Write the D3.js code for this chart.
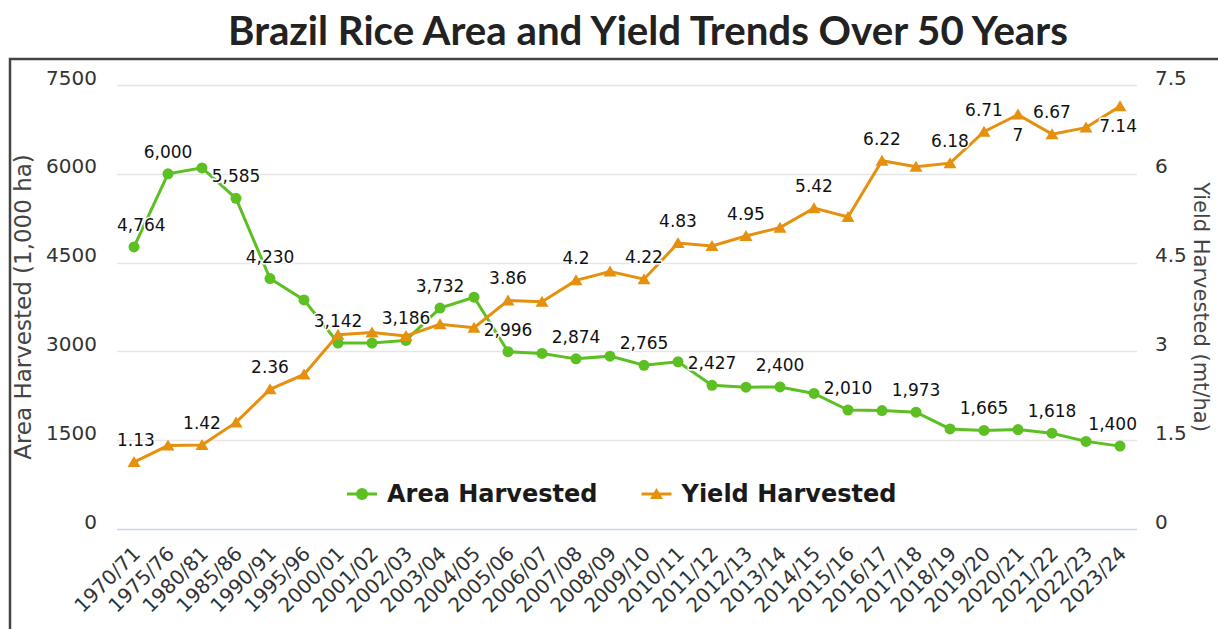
<!DOCTYPE html>
<html>
<head>
  <meta charset="utf-8" />
  <title>Brazil Rice Area and Yield</title>
  <script src="https://d3js.org/d3.v7.min.js"></script>
  <style>
    html, body { margin: 0; padding: 0; background: #fff; }
    svg { display: block; }
  </style>
</head>
<body>
<svg id="chart" width="1218" height="629"></svg>
<script>
// marketing years on the x axis
const years = ["1970/71", "1975/76", "1980/81", "1985/86", "1990/91", "1995/96", "2000/01", "2001/02",
  "2002/03", "2003/04", "2004/05", "2005/06", "2006/07", "2007/08", "2008/09", "2009/10", "2010/11",
  "2011/12", "2012/13", "2013/14", "2014/15", "2015/16", "2016/17", "2017/18", "2018/19", "2019/20",
  "2020/21", "2021/22", "2022/23", "2023/24"]

// area harvested, 1,000 ha
const area = [4764, 6000, 6100, 5585, 4230, 3870, 3142, 3140, 3186, 3732, 3915, 2996, 2965, 2874, 2920,
  2765, 2825, 2427, 2395, 2400, 2290, 2010, 2000, 1973, 1690, 1665, 1680, 1618, 1480, 1400]

// yield, mt/ha
const yieldHa = [1.13, 1.41, 1.42, 1.80, 2.36, 2.61, 3.28, 3.32, 3.26, 3.46, 3.40, 3.86, 3.84, 4.2, 4.35,
  4.22, 4.83, 4.78, 4.95, 5.09, 5.42, 5.27, 6.22, 6.12, 6.18, 6.71, 7.0, 6.67, 6.78, 7.14]

// which points carry a visible data label
const areaLabelled = [0, 1, 3, 4, 6, 8, 9, 11, 13, 15, 17, 19, 21, 23, 25, 27, 29]
const yieldLabelled = [0, 2, 4, 11, 13, 15, 16, 18, 20, 22, 24, 25, 26, 27, 29]

const areaTicks = [0, 1500, 3000, 4500, 6000, 7500]
const yieldTicks = [0, 1.5, 3, 4.5, 6, 7.5]

const green = "#5cbf22"
const orange = "#e5900e"
const font = "'DejaVu Sans', Verdana, sans-serif"

const svg = d3.select("#chart")
const plotLeft = 117, plotRight = 1137, plotTop = 85, plotBottom = 529

const x = d3.scalePoint().domain(years).range([plotLeft, plotRight]).padding(0.5)
const yA = d3.scaleLinear().domain([0, 7500]).range([plotBottom, plotTop])
const yY = d3.scaleLinear().domain([0, 7.5]).range([plotBottom, plotTop])

// frame around the chart image
svg.append("path")
  .attr("d", "M10,629V59H1218")
  .attr("fill", "none")
  .attr("stroke", "#444")
  .attr("stroke-width", 2.5)

// title
const title = svg.append("text")
  .attr("x", 648)
  .attr("y", 45)
  .attr("text-anchor", "middle")
  .style("font-family", "Lato, 'Open Sans', sans-serif")
  .style("font-weight", "bold")
  .style("font-size", "36px")
  .style("fill", "#222")
  .text("Brazil Rice Area and Yield Trends Over 50 Years")
const tw = title.node().getComputedTextLength()
title.style("font-size", (36 * 840 / tw) + "px")

// grid lines
svg.append("g")
  .selectAll("line")
  .data(areaTicks.slice(1))
  .enter()
  .append("line")
  .attr("x1", plotLeft)
  .attr("x2", plotRight)
  .attr("y1", d => Math.round(yA(d)) + 0.5)
  .attr("y2", d => Math.round(yA(d)) + 0.5)
  .attr("stroke", "#e6e6e6")
  .attr("stroke-width", 1.5)

// bottom axis line
svg.append("line")
  .attr("x1", plotLeft).attr("x2", plotRight)
  .attr("y1", plotBottom + 0.5).attr("y2", plotBottom + 0.5)
  .attr("stroke", "#ccd6eb")
  .attr("stroke-width", 1.5)

// left axis labels
const leftAxis = svg.append("g")
  .attr("transform", `translate(97,0)`)
  .call(d3.axisLeft(yA).tickValues(areaTicks).tickSize(0).tickPadding(0).tickFormat(d3.format("d")))
leftAxis.select(".domain").remove()
leftAxis.selectAll("text")
  .attr("dy", "-0.05em")
  .style("font-family", font)
  .style("font-size", "20px")
  .style("fill", "#333")

// right axis labels
const rightAxis = svg.append("g")
  .attr("transform", `translate(1155,0)`)
  .call(d3.axisRight(yY).tickValues(yieldTicks).tickSize(0).tickPadding(0).tickFormat(d3.format("")))
rightAxis.select(".domain").remove()
rightAxis.selectAll("text")
  .attr("dy", "-0.05em")
  .style("font-family", font)
  .style("font-size", "20px")
  .style("fill", "#333")

// x axis labels, rotated
const xAxis = svg.append("g")
  .attr("transform", `translate(0,${plotBottom})`)
  .call(d3.axisBottom(x).tickSize(0).tickPadding(0))
xAxis.select(".domain").remove()
xAxis.selectAll("text")
  .attr("text-anchor", "end")
  .attr("dy", null)
  .attr("transform", "translate(7,26) rotate(-45)")
  .style("font-family", font)
  .style("font-size", "20px")
  .style("fill", "#333")

// axis titles
svg.append("text")
  .attr("transform", `translate(31,${(plotTop + plotBottom) / 2}) rotate(-90)`)
  .attr("text-anchor", "middle")
  .style("font-family", font)
  .style("font-size", "23px")
  .style("fill", "#444")
  .text("Area Harvested (1,000 ha)")

svg.append("text")
  .attr("transform", `translate(1201,${(plotTop + plotBottom) / 2}) rotate(90)`)
  .attr("text-anchor", "middle")
  .attr("dominant-baseline", "central")
  .style("font-family", font)
  .style("font-size", "21px")
  .style("fill", "#444")
  .text("Yield Harvested (mt/ha)")

// series lines
const areaLine = d3.line().x((d, i) => x(years[i])).y(d => yA(d))
const yieldLine = d3.line().x((d, i) => x(years[i])).y(d => yY(d))

svg.append("path")
  .datum(area)
  .attr("d", areaLine)
  .attr("fill", "none")
  .attr("stroke", green)
  .attr("stroke-width", 3)

svg.selectAll("circle.area")
  .data(area)
  .enter()
  .append("circle")
  .attr("class", "area")
  .attr("cx", (d, i) => x(years[i]))
  .attr("cy", d => yA(d))
  .attr("r", 5.5)
  .style("fill", green)

svg.append("path")
  .datum(yieldHa)
  .attr("d", yieldLine)
  .attr("fill", "none")
  .attr("stroke", orange)
  .attr("stroke-width", 3)

const tri = "M0,-6L6.5,5L-6.5,5Z"
svg.selectAll("path.yield")
  .data(yieldHa)
  .enter()
  .append("path")
  .attr("class", "yield")
  .attr("d", tri)
  .attr("transform", (d, i) => `translate(${x(years[i])},${yY(d)})`)
  .style("fill", orange)

// data labels, kept inside the plot like the source chart
function addLabels(values, idx, y, fmt) {
  const g = svg.append("g")
  idx.forEach(i => {
    const px = x(years[i]), py = y(values[i])
    const t = g.append("text")
      .attr("text-anchor", "middle")
      .attr("dominant-baseline", "central")
      .style("font-family", font)
      .style("font-size", "17px")
      .style("fill", "#111")
      .style("stroke", "#fff")
      .style("stroke-width", 3)
      .style("stroke-linejoin", "round")
      .style("paint-order", "stroke")
      .text(fmt(values[i]))
    const w = t.node().getComputedTextLength()
    let cx = Math.max(plotLeft + w / 2, Math.min(plotRight - w / 2, px))
    let cy = py - 22
    if (cy - 10 < plotTop) cy = py + 20
    t.attr("x", cx).attr("y", cy)
  })
}
addLabels(area, areaLabelled, yA, d3.format(","))
addLabels(yieldHa, yieldLabelled, yY, d => String(d))

// legend
const legendItems = [
  { name: "Area Harvested", color: green, shape: "circle" },
  { name: "Yield Harvested", color: orange, shape: "triangle" }
]
const legend = svg.append("g")
let lx = 347
legendItems.forEach(item => {
  const g = legend.append("g").attr("transform", `translate(${lx},494)`)
  g.append("line").attr("x1", 0).attr("x2", 30).attr("stroke", item.color).attr("stroke-width", 3)
  if (item.shape === "circle") {
    g.append("circle").attr("cx", 15).attr("r", 6).style("fill", item.color)
  } else {
    g.append("path").attr("d", tri).attr("transform", "translate(15,0)").style("fill", item.color)
  }
  const t = g.append("text")
    .attr("x", 40)
    .attr("dominant-baseline", "central")
    .style("font-family", font)
    .style("font-weight", "bold")
    .style("font-size", "24px")
    .style("fill", "#1a1a1a")
    .text(item.name)
  lx += 40 + t.node().getComputedTextLength() + 44
})
</script>
</body>
</html>
